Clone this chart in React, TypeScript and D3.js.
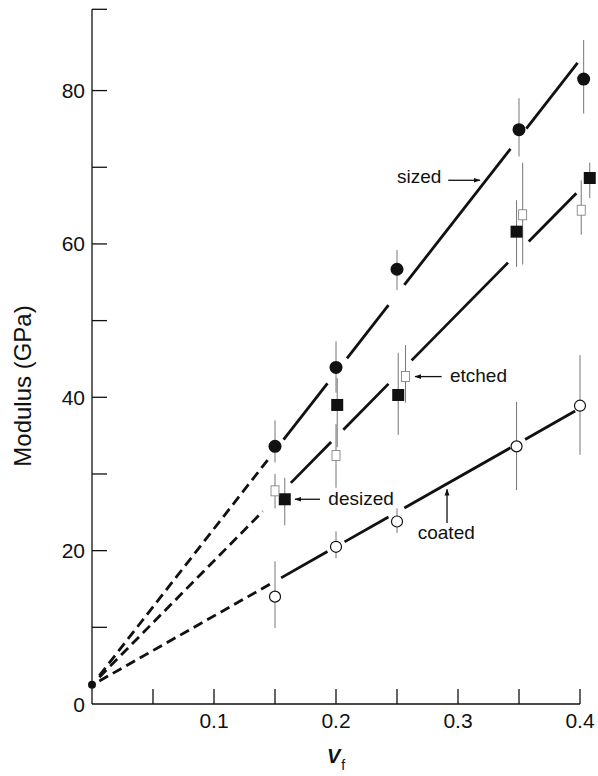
import React from 'react';
import * as d3 from 'd3';

// points: vf, modulus, error bar low/high
const sized = [
  { vf: 0.15, mod: 33.6, lo: 31.5, hi: 37.0 },
  { vf: 0.2, mod: 43.9, lo: 40.6, hi: 47.3 },
  { vf: 0.25, mod: 56.7, lo: 54.0, hi: 59.2 },
  { vf: 0.35, mod: 74.9, lo: 71.4, hi: 79.0 },
  { vf: 0.403, mod: 81.5, lo: 77.0, hi: 86.6 },
];
const desized = [
  { vf: 0.158, mod: 26.7, lo: 23.3, hi: 29.5 },
  { vf: 0.201, mod: 39.0, lo: 33.5, hi: 42.5 },
  { vf: 0.251, mod: 40.3, lo: 35.1, hi: 45.8 },
  { vf: 0.348, mod: 61.6, lo: 57.0, hi: 65.7 },
  { vf: 0.408, mod: 68.6, lo: 66.0, hi: 70.6 },
];
const etched = [
  { vf: 0.15, mod: 27.8, lo: 25.5, hi: 30.0 },
  { vf: 0.2, mod: 32.4, lo: 28.2, hi: 36.5 },
  { vf: 0.257, mod: 42.7, lo: 39.3, hi: 46.8 },
  { vf: 0.353, mod: 63.8, lo: 57.3, hi: 70.6 },
  { vf: 0.401, mod: 64.4, lo: 61.2, hi: 68.3 },
];
const coated = [
  { vf: 0.15, mod: 14.0, lo: 9.9, hi: 18.6 },
  { vf: 0.2, mod: 20.5, lo: 19.0, hi: 22.5 },
  { vf: 0.25, mod: 23.8, lo: 22.3, hi: 25.5 },
  { vf: 0.348, mod: 33.6, lo: 27.9, hi: 39.4 },
  { vf: 0.4, mod: 38.9, lo: 32.5, hi: 45.5 },
];
const matrixPoint = { vf: 0, mod: 2.5 };

// fitted lines: end points, dashed part, solid pieces (broken at markers)
const sizedFit = { ends: [[0.006, 3.7], [0.398, 83.6]], dash: [0.006, 0.146], solid: [[0.157, 0.193], [0.209, 0.243], [0.256, 0.343], [0.356, 0.398]] };
const desizedFit = { ends: [[0.006, 3.5], [0.397, 66.6]], dash: [0.006, 0.14], solid: [[0.163, 0.196], [0.206, 0.243], [0.262, 0.341], [0.358, 0.397]] };
const coatedFit = { ends: [[0.006, 3.0], [0.396, 38.2]], dash: [0.006, 0.146], solid: [[0.155, 0.193], [0.207, 0.243], [0.256, 0.343], [0.355, 0.396]] };

const xTicks = [0.05, 0.1, 0.15, 0.2, 0.25, 0.3, 0.35, 0.4];
const xLabels = [0.1, 0.2, 0.3, 0.4];
const yTicks = [10, 20, 30, 40, 50, 60, 70, 80];
const yLabels = [0, 20, 40, 60, 80];

const W = 598;
const H = 776;
const FONT = '"Liberation Sans", Arial, Helvetica, sans-serif';
const INK = '#111';

export default function App() {
  const x = d3.scaleLinear().domain([0, 0.4]).range([92, 580]);
  const y = d3.scaleLinear().domain([0, 90.6]).range([704, 9.3]);
  const yMax = 90.6;
  const tickLen = 15;

  const fitLines = [sizedFit, desizedFit, coatedFit].map((f, i) => {
    const m = d3.scaleLinear().domain([f.ends[0][0], f.ends[1][0]]).range([f.ends[0][1], f.ends[1][1]]);
    const line = d3.line<number>().x((v) => x(v)).y((v) => y(m(v)));
    return (
      <g key={i} fill="none" stroke={INK} strokeWidth={2.8}>
        <path d={line(f.dash) || ''} strokeDasharray="10 5.5" />
        {f.solid.map((s, j) => (
          <path key={j} d={line(s) || ''} />
        ))}
      </g>
    );
  });

  const errBars = [...sized, ...desized, ...etched, ...coated].map((d, i) => (
    <line key={i} x1={x(d.vf)} x2={x(d.vf)} y1={y(d.lo)} y2={y(d.hi)} stroke="#666" strokeWidth={0.9} />
  ));

  const arrow = (x1: number, y1: number, x2: number, y2: number) => (
    <line x1={x(x1)} y1={y(y1)} x2={x(x2)} y2={y(y2)} stroke={INK} strokeWidth={1.3} markerEnd="url(#head)" />
  );

  return (
    <svg width={W} height={H} style={{ position: 'absolute', left: 0, top: 0, background: '#fff' }} fontFamily={FONT}>
      <defs>
        <marker id="head" viewBox="0 0 10 10" refX="9" refY="5" markerWidth="7" markerHeight="7" orient="auto" markerUnits="userSpaceOnUse">
          <path d="M0,1.5 L10,5 L0,8.5 Z" fill={INK} />
        </marker>
      </defs>

      {/* axes */}
      <g stroke={INK} strokeWidth={1.3} fill="none">
        <line x1={x(0)} x2={x(0)} y1={y(0)} y2={y(yMax)} />
        <line x1={x(0)} x2={x(0.4)} y1={y(0)} y2={y(0)} />
        <line x1={x(0)} x2={x(0) + tickLen} y1={y(yMax)} y2={y(yMax)} />
        {yTicks.map((t) => (
          <line key={t} x1={x(0)} x2={x(0) + tickLen} y1={y(t)} y2={y(t)} />
        ))}
        {xTicks.map((t) => (
          <line key={t} x1={x(t)} x2={x(t)} y1={y(0)} y2={y(0) - tickLen} />
        ))}
      </g>
      <g fontSize={21} fill={INK}>
        {yLabels.map((t) => (
          <text key={t} x={x(0) - 7} y={y(t)} textAnchor="end" dominantBaseline="central">
            {t}
          </text>
        ))}
        {xLabels.map((t) => (
          <text key={t} x={x(t)} y={y(0) + 24} textAnchor="middle">
            {d3.format('.1f')(t)}
          </text>
        ))}
      </g>
      <text transform="translate(31,386) rotate(-90)" textAnchor="middle" fontSize={24} fill={INK}>
        Modulus (GPa)
      </text>
      <text x={x(0.2)} y={763} textAnchor="middle" fill={INK}>
        <tspan fontSize={20} fontWeight="bold" fontStyle="italic">V</tspan>
        <tspan fontSize={14} dy={7} dx={1}>f</tspan>
      </text>

      {/* fitted lines and data */}
      {fitLines}
      {errBars}
      <circle cx={x(matrixPoint.vf)} cy={y(matrixPoint.mod)} r={4} fill={INK} />
      {sized.map((d, i) => (
        <circle key={i} cx={x(d.vf)} cy={y(d.mod)} r={6.5} fill={INK} />
      ))}
      {desized.map((d, i) => (
        <rect key={i} x={x(d.vf) - 6} y={y(d.mod) - 6} width={12} height={12} fill={INK} />
      ))}
      {etched.map((d, i) => (
        <rect key={i} x={x(d.vf) - 4} y={y(d.mod) - 5} width={8} height={10} fill="#fff" stroke="#777" strokeWidth={0.8} />
      ))}
      {coated.map((d, i) => (
        <circle key={i} cx={x(d.vf)} cy={y(d.mod)} r={5.5} fill="#fff" stroke={INK} strokeWidth={1.2} />
      ))}

      {/* labels */}
      <g fontSize={19} fill={INK}>
        <text x={x(0.25)} y={y(68.0)}>sized</text>
        <text x={x(0.2934)} y={y(42.0)}>etched</text>
        <text x={x(0.1937)} y={y(26.0)}>desized</text>
        <text x={x(0.267)} y={y(21.5)}>coated</text>
      </g>
      {arrow(0.292, 68.3, 0.318, 68.3)}
      {arrow(0.2866, 42.7, 0.2648, 42.7)}
      {arrow(0.1869, 26.7, 0.1664, 26.7)}
      {arrow(0.291, 23.6, 0.291, 28.0)}
    </svg>
  );
}
